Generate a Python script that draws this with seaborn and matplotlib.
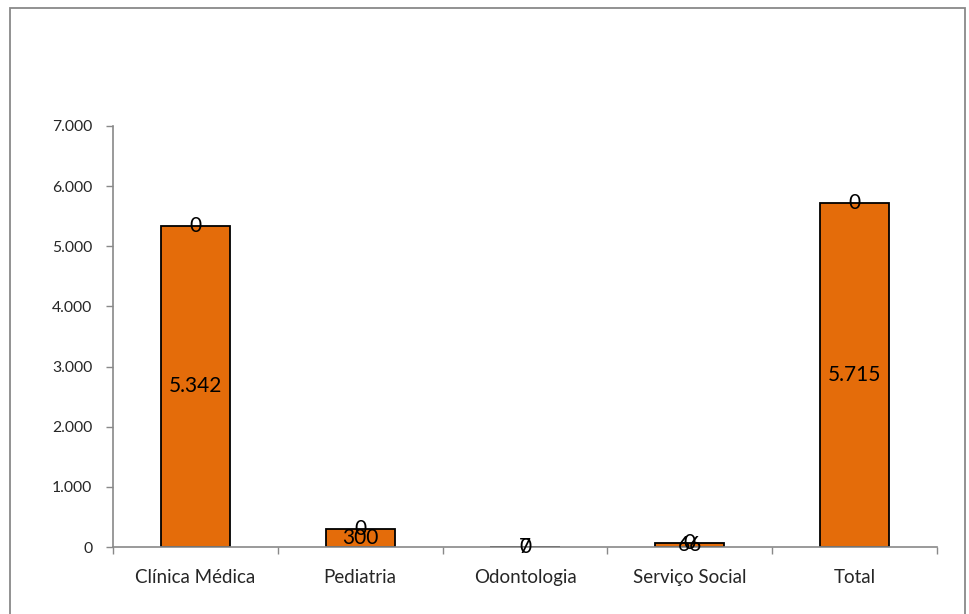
import matplotlib
matplotlib.use("Agg")
import matplotlib.pyplot as plt
from matplotlib.patches import Rectangle
from matplotlib.ticker import FuncFormatter, FixedLocator
import numpy as np
import pandas as pd
import seaborn as sns

# dados
categorias = ["Clínica Médica", "Pediatria", "Odontologia", "Serviço Social", "Total"]
atendimentos = [5342, 300, 7, 66, 5715]
serie_zero = [0, 0, 0, 0, 0]
y_ticks = [0, 1000, 2000, 3000, 4000, 5000, 6000, 7000]

df = pd.DataFrame({"cat": categorias, "val": atendimentos})

sns.set_theme(style="white")
plt.rcParams["font.family"] = ["Lato", "DejaVu Sans"]

fig = plt.figure(figsize=(9.69, 6.14), dpi=100)
ax = fig.add_axes([0.1166, 0.1091, 0.8504, 0.6857])

sns.barplot(data=df, x="cat", y="val", color="#E46C0A", saturation=1,
            edgecolor="black", linewidth=1.3, width=0.42, ax=ax)

fmt = lambda v: f"{v:,.0f}".replace(",", ".")

# rótulos centrais e o "0" da série vazia no topo
for i, v in enumerate(atendimentos):
    ax.text(i, v / 2, fmt(v), ha="center", va="center", fontsize=15, color="black")
    ax.text(i, v + serie_zero[i], str(serie_zero[i]), ha="center", va="center",
            fontsize=15, color="black")

ax.set_ylim(0, 7000)
ax.set_xlim(-0.5, len(categorias) - 0.5)
ax.set_yticks(y_ticks)
ax.yaxis.set_major_formatter(FuncFormatter(lambda v, p: fmt(v)))
ax.set_xlabel("")
ax.set_ylabel("")

ax.xaxis.set_minor_locator(FixedLocator(np.arange(-0.5, len(categorias), 1.0)))
ax.tick_params(axis="x", which="major", length=0, labelsize=13.5, pad=16)
ax.tick_params(axis="x", which="minor", length=5, width=1, color="#898989",
               direction="out", bottom=True)
ax.tick_params(axis="y", length=5, width=1, color="#898989", direction="out",
               left=True, labelsize=11.3, pad=10)

for s in ["top", "right"]:
    ax.spines[s].set_visible(False)
for s in ["left", "bottom"]:
    ax.spines[s].set_color("#898989")
    ax.spines[s].set_linewidth(1.2)

# moldura externa
fig.patches.append(Rectangle((0.0105, -0.01), 0.985, 0.997, transform=fig.transFigure,
                             fill=False, edgecolor="#898989", linewidth=1.3))

fig.savefig("out.png", dpi=100)
